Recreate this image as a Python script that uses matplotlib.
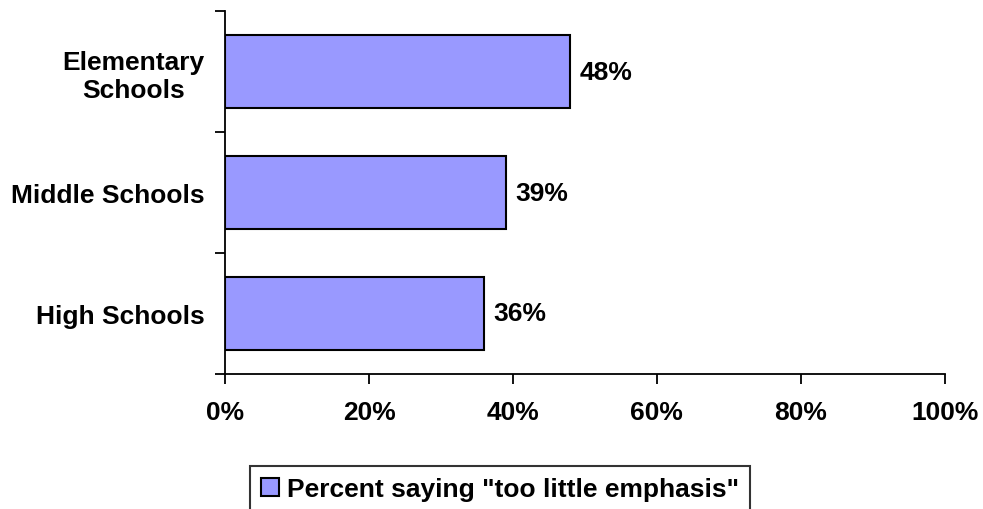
import matplotlib.pyplot as plt
from matplotlib.ticker import FixedLocator

plt.rcParams['font.family'] = ['Liberation Sans', 'DejaVu Sans']
plt.rcParams['font.weight'] = 'bold'

categories = ['High Schools', 'Middle Schools', 'Elementary\nSchools']
values = [36, 39, 48]
xticks = [0, 20, 40, 60, 80, 100]
series_name = 'Percent saying "too little emphasis"'

FS = 19

fig = plt.figure(figsize=(9.83, 5.10), dpi=100)
ax = fig.add_axes([0.229, 0.265, 0.732, 0.711])

bars = ax.barh(range(len(categories)), values, height=0.6, color='#9999ff',
               edgecolor='black', linewidth=1.5, label=series_name)
for i, v in enumerate(values):
    ax.text(v + 1.3, i, '%d%%' % v, va='center', ha='left', fontsize=FS, fontweight='bold')

ax.set_xlim(0, 100)
ax.set_ylim(-0.5, len(categories) - 0.5)
ax.set_xticks(xticks)
ax.set_xticklabels(['%d%%' % t for t in xticks], fontsize=FS, fontweight='bold')
ax.set_yticks(range(len(categories)))
ax.set_yticklabels(categories, fontsize=FS, fontweight='bold', ha='right',
                   multialignment='center')
ax.tick_params(axis='y', which='major', length=0, pad=15)
ax.yaxis.set_minor_locator(FixedLocator([-0.5, 0.5, 1.5, 2.5]))
ax.tick_params(axis='y', which='minor', length=7, width=1.3)
ax.tick_params(axis='x', length=7, width=1.3, pad=12)

for s in ['top', 'right']:
    ax.spines[s].set_visible(False)
for s in ['left', 'bottom']:
    ax.spines[s].set_linewidth(1.3)

leg = fig.legend(loc='center', bbox_to_anchor=(500 / 983, 1 - 490 / 510),
                 fontsize=FS, frameon=True, fancybox=False, edgecolor='black',
                 handlelength=0.7, handleheight=0.7, handletextpad=0.3,
                 borderpad=0.4)
leg.get_frame().set_linewidth(1.5)
for t in leg.get_texts():
    t.set_fontweight('bold')

fig.savefig('out.png', dpi=100)
